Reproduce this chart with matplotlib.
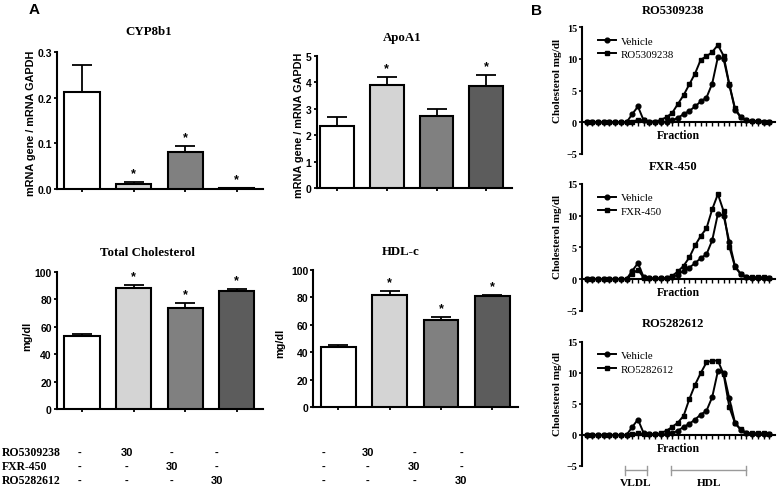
import matplotlib
matplotlib.use('Agg')
import matplotlib.pyplot as plt
import numpy as np
from matplotlib.ticker import FormatStrFormatter

# ---------------- data ----------------
bar_colors = ['#ffffff', '#d4d4d4', '#808080', '#5c5c5c']

cyp_means = [0.213, 0.010, 0.082, 0.002]
cyp_errs = [0.058, 0.005, 0.012, 0.001]
cyp_sig = [False, True, True, True]

apo_means = [2.36, 3.89, 2.71, 3.84]
apo_errs = [0.32, 0.31, 0.28, 0.44]
apo_sig = [False, True, False, True]

tc_means = [53.4, 87.9, 73.8, 85.7]
tc_errs = [1.5, 2.6, 3.1, 1.7]
tc_sig = [False, True, True, True]

hdl_means = [43.7, 81.8, 63.6, 80.8]
hdl_errs = [1.7, 2.7, 2.4, 1.2]
hdl_sig = [False, True, True, True]

compounds = ['RO5309238', 'FXR-450', 'RO5282612']
dose_table = [['-', '30', '-', '-'],
              ['-', '-', '30', '-'],
              ['-', '-', '-', '30']]

vehicle = [0, 0, 0, 0, 0, 0, 0, 0, 1.3, 2.5, 0.3, 0.1, 0.1, 0.1, 0.1, 0.3,
           0.7, 1.3, 1.8, 2.5, 3.3, 3.9, 6.1, 10.3, 10.0, 5.9, 2.0, 0.8,
           0.3, 0.2, 0.2, 0.1, 0.1]
ro53 = [0, 0, 0, 0, 0, 0, 0, 0, 0.1, 0.4, 0.3, 0.1, 0.1, 0.4, 0.8, 1.5,
        2.9, 4.3, 6.0, 7.7, 9.9, 10.4, 11.1, 12.2, 10.5, 6.0, 2.2, 0.8,
        0.3, 0.2, 0.2, 0.1, 0.1]
fxr = [0, 0, 0, 0, 0, 0, 0, 0, 0.8, 1.5, 0.2, 0.1, 0.1, 0.1, 0.2, 0.5,
       1.2, 2.1, 3.4, 5.3, 6.8, 8.0, 11.0, 13.4, 10.7, 5.1, 1.9, 0.8,
       0.3, 0.3, 0.3, 0.3, 0.2]
ro52 = [0, 0, 0, 0, 0, 0, 0, 0, 0.1, 0.3, 0.1, 0.1, 0.1, 0.3, 0.7, 1.3,
        2.0, 3.1, 5.8, 8.1, 10.0, 11.7, 12.0, 12.0, 9.8, 4.5, 1.9, 0.9,
        0.3, 0.3, 0.3, 0.3, 0.2]
vldl_range = (6.8, 10.5)
hdl_range = (14.8, 28.0)

# ---------------- layout helpers ----------------
W, H = 777, 489
fig = plt.figure(figsize=(W / 100, H / 100), dpi=100)
SANS = 'Liberation Sans'
SERIF = 'Liberation Serif'


def add_ax(l, t, r, b):
    return fig.add_axes([l / W, 1 - b / H, (r - l) / W, (b - t) / H])


def ftext(x, y, s, **kw):
    fig.text(x / W, 1 - y / H, s, **kw)


def bar_panel(box, means, errs, sig, ylim, yticks, fmt, xlim):
    ax = add_ax(*box)
    x = np.arange(len(means))
    ax.bar(x, means, width=0.68, color=bar_colors, edgecolor='black',
           linewidth=1.5, zorder=3)
    ax.errorbar(x, means, yerr=[np.zeros(len(errs)), errs], fmt='none',
                ecolor='black', elinewidth=1.3, capsize=7, capthick=1.3,
                zorder=2)
    for xi, m, e, s in zip(x, means, errs, sig):
        if s:
            ax.annotate('*', xy=(xi, m + e), xytext=(0, 2),
                        textcoords='offset points', ha='center', va='bottom',
                        fontsize=9, fontweight='bold', family=SANS)
    ax.set_xlim(*xlim)
    ax.set_ylim(*ylim)
    ax.set_yticks(yticks)
    ax.yaxis.set_major_formatter(FormatStrFormatter(fmt))
    ax.set_xticks(x)
    ax.set_xticklabels([])
    for sp in ['top', 'right']:
        ax.spines[sp].set_visible(False)
    for sp in ['left', 'bottom']:
        ax.spines[sp].set_linewidth(1.5)
    ax.tick_params(axis='both', direction='out', length=2.5, width=1.3,
                   pad=1.2)
    for lab in ax.get_yticklabels():
        lab.set_fontfamily(SANS)
        lab.set_fontweight('bold')
        lab.set_fontsize(7.5)
    return ax


# ---------------- panel A ----------------
bar_panel((57, 53, 263, 190), cyp_means, cyp_errs, cyp_sig, (0, 0.3),
          [0, 0.1, 0.2, 0.3], '%.1f', (-0.485, 3.51))
bar_panel((316.7, 56.7, 511.7, 189.3), apo_means, apo_errs, apo_sig, (0, 5),
          [0, 1, 2, 3, 4, 5], '%d', (-0.41, 3.51))
bar_panel((57, 272.7, 263, 410), tc_means, tc_errs, tc_sig, (0, 100),
          [0, 20, 40, 60, 80, 100], '%d', (-0.485, 3.51))
bar_panel((313.3, 271, 518, 408.3), hdl_means, hdl_errs, hdl_sig, (0, 100),
          [0, 20, 40, 60, 80, 100], '%d', (-0.49, 3.5))

title_kw = dict(ha='center', va='center', family=SERIF, fontweight='bold',
                fontsize=9.3)
ftext(149, 32, 'CYP8b1', **title_kw)
ftext(402, 38, 'ApoA1', **title_kw)
ftext(147, 252.7, 'Total Cholesterol', **title_kw)
ftext(401, 251.7, 'HDL-c', **title_kw)

ylab_kw = dict(ha='center', va='center', rotation=90, family=SANS,
               fontweight='bold', fontsize=7.8)
ftext(31.5, 123.5, 'mRNA gene / mRNA GAPDH', **ylab_kw)
ftext(298.5, 125, 'mRNA gene / mRNA GAPDH', **ylab_kw)
ftext(27, 336, 'mg/dl', **ylab_kw)
ftext(280, 343, 'mg/dl', **ylab_kw)

ftext(34, 10, 'A', ha='center', va='center', family=SANS, fontweight='bold',
      fontsize=11)
ftext(537, 11, 'B', ha='center', va='center', family=SANS, fontweight='bold',
      fontsize=11)

# treatment table
row_y = [452.7, 466.7, 480.7]
col_left = [80, 127, 172, 217]
col_right = [323, 368, 414, 461]
for ry, name, row in zip(row_y, compounds, dose_table):
    ftext(1.5, ry, name, ha='left', va='center', family=SERIF,
          fontweight='bold', fontsize=8.5)
    for cx, v in zip(col_left + col_right, row + row):
        ftext(cx, ry, v, ha='center', va='center', family=SANS,
              fontweight='bold', fontsize=8)

# ---------------- panel B ----------------


def profile(box, treated, label, title, title_y):
    ax = add_ax(*box)
    x = np.arange(len(vehicle))
    ax.plot(x, vehicle, '-o', color='black', ms=3.4, lw=1.4, label='Vehicle',
            clip_on=False, zorder=3)
    ax.plot(x, treated, '-s', color='black', ms=3.4, lw=1.4, label=label,
            clip_on=False, zorder=3)
    ax.set_xlim(-0.8, 33)
    ax.set_ylim(-5, 15)
    ax.set_yticks([-5, 0, 5, 10, 15])
    ax.set_xticks(x)
    ax.set_xticklabels([])
    ax.spines['bottom'].set_position(('data', 0))
    for sp in ['top', 'right']:
        ax.spines[sp].set_visible(False)
    for sp in ['left', 'bottom']:
        ax.spines[sp].set_linewidth(1.5)
    ax.tick_params(axis='y', direction='out', length=2.5, width=1.2, pad=1)
    ax.tick_params(axis='x', direction='out', length=3, width=1.0)
    for lab in ax.get_yticklabels():
        lab.set_fontfamily(SERIF)
        lab.set_fontweight('bold')
        lab.set_fontsize(7.3)
    ax.legend(loc='upper left', bbox_to_anchor=(0.085, 0.93),
              frameon=False, handlelength=1.65, handletextpad=0.45,
              labelspacing=0.35, borderpad=0, borderaxespad=0,
              prop=dict(family=SERIF, size=7.8))
    l, t, r, b = box
    ftext(673, title_y, title, ha='center', va='center', family=SERIF,
          fontweight='bold', fontsize=9)
    y0 = t + (b - t) * 15 / 20
    ftext((l + r) / 2, y0 + 13, 'Fraction', ha='center', va='center',
          family=SERIF, fontweight='bold', fontsize=8.5)
    ftext(558, (t + b) / 2 - 11, 'Cholesterol mg/dl', ha='center',
          va='center', rotation=90, family=SERIF, fontweight='bold',
          fontsize=8)
    return ax


profile((582, 28.3, 775, 155), ro53, 'RO5309238', 'RO5309238', 10.7)
profile((582, 185, 775, 311.7), fxr, 'FXR-450', 'FXR-450', 166.7)
ax3 = profile((582, 343, 775, 467), ro52, 'RO5282612', 'RO5282612', 324)

# VLDL / HDL brackets
gray = '#9a9a9a'
by = -5.7
for (a, b_), name in [(vldl_range, 'VLDL'), (hdl_range, 'HDL')]:
    ax3.plot([a, b_], [by, by], color=gray, lw=1, clip_on=False)
    for e in (a, b_):
        ax3.plot([e, e], [by - 0.75, by + 0.75], color=gray, lw=1,
                 clip_on=False)
    ax3.annotate(name, xy=((a + b_) / 2, by), xytext=(0, -8.8),
                 textcoords='offset points', ha='center', va='center',
                 family=SERIF, fontweight='bold', fontsize=8.2,
                 annotation_clip=False)

fig.savefig('out.png', dpi=100)
